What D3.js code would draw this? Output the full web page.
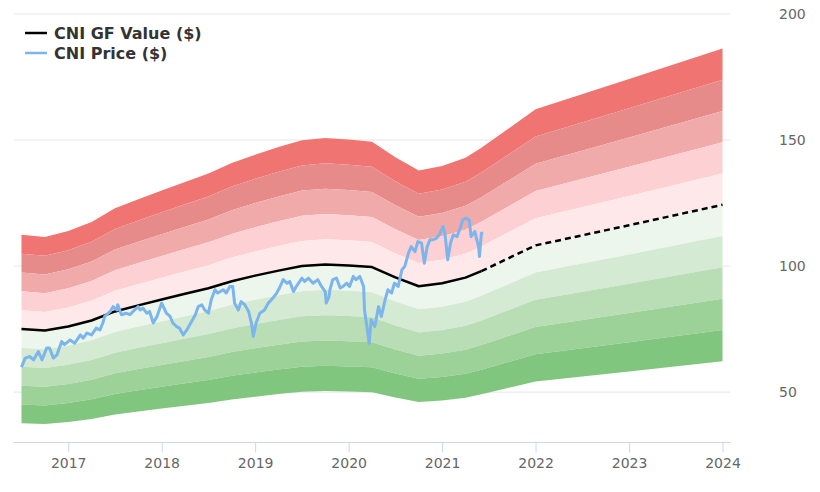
<!DOCTYPE html>
<html>
<head>
<meta charset="utf-8">
<script src="https://cdn.jsdelivr.net/npm/d3@7"></script>
<style>
html,body{margin:0;padding:0;background:#fff;}
svg{display:block;font-family:"DejaVu Sans",sans-serif;}
</style>
</head>
<body>
<svg id="chart" width="820" height="492"></svg>
<script>
// ---- data ----
const gfYears = [2016.5, 2016.75, 2017.0, 2017.25, 2017.5, 2017.75, 2018.0, 2018.25, 2018.5, 2018.75, 2019.0, 2019.25, 2019.5, 2019.75, 2020.0, 2020.25, 2020.5, 2020.75, 2021.0, 2021.25, 2021.42, 2021.75, 2022.0, 2023.0, 2024.0];
const gfValues = [74.8, 74.2, 75.8, 78.2, 81.8, 84.2, 86.5, 88.8, 91.0, 93.8, 96.0, 98.0, 99.8, 100.4, 100.0, 99.4, 95.3, 91.8, 93.0, 95.2, 97.8, 103.6, 108.0, 116.0, 124.1];
const gfLastActual = 2021.42;

const priceYears = [2016.50, 2016.54, 2016.59, 2016.63, 2016.68, 2016.72, 2016.77, 2016.80, 2016.84, 2016.88, 2016.93, 2016.96, 2017.02, 2017.07, 2017.13, 2017.16, 2017.20, 2017.25, 2017.30, 2017.34, 2017.37, 2017.39, 2017.45, 2017.48, 2017.52, 2017.53, 2017.57, 2017.62, 2017.66, 2017.71, 2017.75, 2017.77, 2017.80, 2017.84, 2017.87, 2017.91, 2017.95, 2018.00, 2018.05, 2018.09, 2018.12, 2018.16, 2018.19, 2018.23, 2018.27, 2018.32, 2018.36, 2018.39, 2018.43, 2018.46, 2018.50, 2018.53, 2018.57, 2018.60, 2018.66, 2018.69, 2018.73, 2018.76, 2018.78, 2018.82, 2018.85, 2018.89, 2018.93, 2018.96, 2018.98, 2019.01, 2019.05, 2019.10, 2019.14, 2019.19, 2019.23, 2019.26, 2019.30, 2019.34, 2019.37, 2019.41, 2019.44, 2019.50, 2019.53, 2019.57, 2019.62, 2019.67, 2019.71, 2019.75, 2019.76, 2019.79, 2019.80, 2019.83, 2019.87, 2019.91, 2019.94, 2019.98, 2020.01, 2020.05, 2020.08, 2020.12, 2020.16, 2020.17, 2020.20, 2020.22, 2020.24, 2020.28, 2020.32, 2020.35, 2020.39, 2020.42, 2020.46, 2020.49, 2020.53, 2020.57, 2020.60, 2020.64, 2020.67, 2020.71, 2020.74, 2020.78, 2020.81, 2020.84, 2020.87, 2020.90, 2020.94, 2020.97, 2021.01, 2021.03, 2021.06, 2021.09, 2021.12, 2021.16, 2021.20, 2021.22, 2021.26, 2021.29, 2021.31, 2021.35, 2021.39, 2021.40, 2021.42, 2021.44];
const priceValues = [59.7, 63.3, 63.9, 62.6, 65.9, 62.6, 67.3, 67.3, 63.3, 64.6, 69.9, 68.6, 70.5, 69.2, 72.5, 71.2, 73.2, 72.5, 75.2, 74.5, 77.2, 79.8, 81.8, 83.7, 82.4, 84.4, 80.5, 81.1, 80.5, 82.4, 83.7, 82.4, 83.1, 81.1, 81.8, 77.2, 79.8, 85.1, 81.1, 79.8, 77.2, 75.8, 75.2, 72.5, 74.5, 77.8, 80.5, 83.7, 84.4, 82.4, 81.1, 86.4, 90.4, 89.1, 90.4, 89.1, 91.7, 91.7, 85.1, 82.4, 85.7, 84.4, 81.8, 77.2, 71.9, 77.2, 81.1, 82.4, 85.1, 87.1, 89.1, 91.1, 94.4, 93.0, 93.7, 89.7, 91.7, 95.0, 93.7, 95.0, 93.0, 94.4, 91.7, 89.7, 85.1, 87.7, 90.4, 94.4, 95.0, 91.1, 91.7, 93.0, 91.7, 95.7, 94.4, 95.7, 91.7, 82.4, 74.5, 69.2, 78.5, 75.8, 83.7, 79.8, 86.4, 90.4, 89.1, 93.0, 91.7, 98.3, 99.6, 104.9, 107.5, 105.5, 109.5, 108.9, 100.9, 107.5, 110.2, 110.2, 110.9, 112.2, 115.5, 112.8, 102.3, 108.9, 112.2, 111.5, 115.5, 118.1, 118.8, 118.1, 111.5, 113.5, 107.5, 103.6, 112.8, 112.8];

const bandMultipliers = [1.5, 1.4, 1.3, 1.2, 1.1, 1.0, 0.9, 0.8, 0.7, 0.6, 0.5];
const bandColors = ["#f07472", "#e68a8a", "#f0aaaa", "#fdd0d4", "#ffe8ea", "#ecf6ec", "#d4ead2", "#b9deb6", "#9cd298", "#80c67e"];

const yTicks = [50, 100, 150, 200];
const xTicks = [2017, 2018, 2019, 2020, 2021, 2022, 2023, 2024];
const legendLabels = ["CNI GF Value ($)", "CNI Price ($)"];
const legendColors = ["#000000", "#7cb5ec"];

// ---- chart ----
const svg = d3.select("#chart");
const x = d3.scaleLinear().domain([2016.42, 2024.08]).range([14, 730]);
const y = d3.scaleLinear().domain([30, 200]).range([442, 13.5]);

// grid
svg.append("g").selectAll("line").data(yTicks).join("line")
  .attr("x1", 14).attr("x2", 730)
  .attr("y1", d => y(d) + 0.5).attr("y2", d => y(d) + 0.5)
  .attr("stroke", "#e6e6e6").attr("stroke-width", 1);

// bands
const gf = gfYears.map((t, i) => ({t, v: gfValues[i]}));
for (let i = 0; i < bandMultipliers.length - 1; i++) {
  const hi = bandMultipliers[i], lo = bandMultipliers[i + 1];
  const area = d3.area().curve(d3.curveLinear)
    .x(d => x(d.t)).y0(d => y(d.v * lo)).y1(d => y(d.v * hi));
  svg.append("path").datum(gf).attr("d", area).attr("fill", bandColors[i]).attr("stroke", "none");
}

// GF value line
const line = d3.line().curve(d3.curveLinear).x(d => x(d.t)).y(d => y(d.v));
svg.append("path").datum(gf.filter(d => d.t <= gfLastActual)).attr("d", line)
  .attr("fill", "none").attr("stroke", "#000").attr("stroke-width", 2.5)
  .attr("stroke-linejoin", "round");
svg.append("path").datum(gf.filter(d => d.t >= gfLastActual)).attr("d", line)
  .attr("fill", "none").attr("stroke", "#000").attr("stroke-width", 2.5)
  .attr("stroke-dasharray", "6,4");

// price line
const price = priceYears.map((t, i) => ({t, v: priceValues[i]}));
svg.append("path").datum(price).attr("d", d3.line().x(d => x(d.t)).y(d => y(d.v)))
  .attr("fill", "none").attr("stroke", "#7cb5ec").attr("stroke-width", 3)
  .attr("stroke-linejoin", "round");

// x axis
const xAxis = svg.append("g").attr("transform", "translate(0,442.5)")
  .call(d3.axisBottom(x).tickValues(xTicks).tickFormat(d3.format("d")).tickSize(10).tickPadding(6));
xAxis.select(".domain").attr("stroke", "#ccd6eb").attr("d", "M14,0H730");
xAxis.selectAll(".tick line").attr("stroke", "#ccd6eb");
xAxis.selectAll(".tick text").attr("fill", "#666").attr("font-size", "14px")
  .attr("font-family", "DejaVu Sans, sans-serif");

// y labels (right)
svg.append("g").selectAll("text").data(yTicks).join("text")
  .attr("x", 779).attr("y", d => y(d) + 5)
  .attr("fill", "#666").attr("font-size", "14px").text(d => d);

// legend
const lg = svg.append("g");
legendLabels.forEach((lab, i) => {
  const ly = 33 + i * 20;
  lg.append("line").attr("x1", 25).attr("x2", 47).attr("y1", ly).attr("y2", ly)
    .attr("stroke", legendColors[i]).attr("stroke-width", 2.5);
  lg.append("text").attr("x", 54).attr("y", ly + 5.5)
    .attr("font-size", "16px").attr("font-weight", "bold").attr("fill", "#333").text(lab);
});
</script>
</body>
</html>
